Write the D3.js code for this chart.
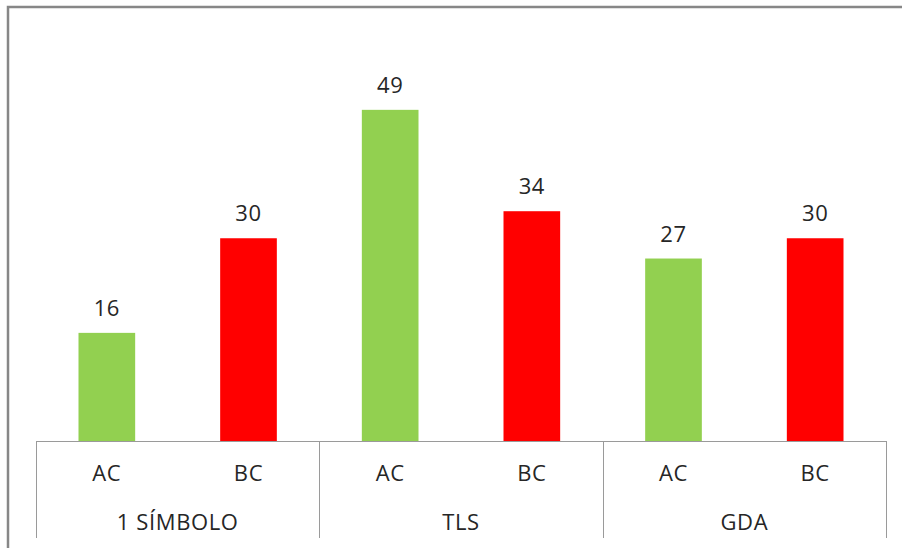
<!DOCTYPE html>
<html>
<head>
<meta charset="utf-8">
<script src="https://cdn.jsdelivr.net/npm/d3@7"></script>
<style>
  html, body { margin: 0; padding: 0; background: #fff; }
  svg { display: block; }
  text { font-family: "Open Sans", Lato, sans-serif; fill: #262626; letter-spacing: 0.6px; }
</style>
</head>
<body>
<svg id="chart" width="902" height="548"></svg>
<script>
// Test groups, sub-categories and counts
const groups = ["1 SÍMBOLO", "TLS", "GDA"];
const subCategories = ["AC", "BC"];
const acValues = [16, 49, 27];
const bcValues = [30, 34, 30];
const yTicks = [0, 10, 20, 30, 40, 50, 60];
const colors = { AC: "#92D050", BC: "#FF0000" };

const width = 902, height = 548;
const plot = { left: 36, right: 886, top: 35.5, bottom: 441 };
const axisBottom = 538;
const fontSize = 22;

const rows = [];
groups.forEach((g, i) => {
  rows.push({ group: g, sub: "AC", value: acValues[i] });
  rows.push({ group: g, sub: "BC", value: bcValues[i] });
});

const svg = d3.select("#chart");

// outer frame
svg.append("rect")
  .attr("x", 8).attr("y", 7)
  .attr("width", width + 20).attr("height", height + 20)
  .attr("fill", "none")
  .attr("stroke", "#878787")
  .attr("stroke-width", 2.5);

const x0 = d3.scaleBand().domain(groups).range([plot.left, plot.right]).padding(0);
const x1 = d3.scaleBand().domain(subCategories).range([0, x0.bandwidth()])
  .paddingInner(0.6).paddingOuter(0.3);
const y = d3.scaleLinear().domain([0, d3.max(yTicks)]).range([plot.bottom, plot.top]);

// bars
svg.append("g").selectAll("rect")
  .data(rows)
  .join("rect")
  .attr("x", d => x0(d.group) + x1(d.sub))
  .attr("y", d => y(d.value))
  .attr("width", x1.bandwidth())
  .attr("height", d => y(0) - y(d.value))
  .attr("fill", d => colors[d.sub]);

// value labels
svg.append("g").selectAll("text")
  .data(rows)
  .join("text")
  .attr("x", d => x0(d.group) + x1(d.sub) + x1.bandwidth() / 2)
  .attr("y", d => y(d.value) - 17)
  .attr("text-anchor", "middle")
  .attr("font-size", fontSize)
  .text(d => d.value);

// category axis: baseline and group separators
const axis = svg.append("g").attr("stroke", "#9a9a9a").attr("stroke-width", 1);
axis.append("line")
  .attr("x1", plot.left).attr("x2", plot.right)
  .attr("y1", plot.bottom + 0.5).attr("y2", plot.bottom + 0.5);
const seps = groups.map(g => x0(g)).concat([plot.right]);
axis.selectAll("line.sep")
  .data(seps)
  .join("line")
  .attr("class", "sep")
  .attr("x1", d => Math.round(d) + 0.5).attr("x2", d => Math.round(d) + 0.5)
  .attr("y1", plot.bottom).attr("y2", axisBottom);

// sub-category labels
svg.append("g").selectAll("text")
  .data(rows)
  .join("text")
  .attr("x", d => x0(d.group) + x1(d.sub) + x1.bandwidth() / 2)
  .attr("y", 481)
  .attr("text-anchor", "middle")
  .attr("font-size", fontSize)
  .text(d => d.sub);

// group labels
svg.append("g").selectAll("text")
  .data(groups)
  .join("text")
  .attr("x", d => x0(d) + x0.bandwidth() / 2)
  .attr("y", 530)
  .attr("text-anchor", "middle")
  .attr("font-size", fontSize)
  .text(d => d);
</script>
</body>
</html>
